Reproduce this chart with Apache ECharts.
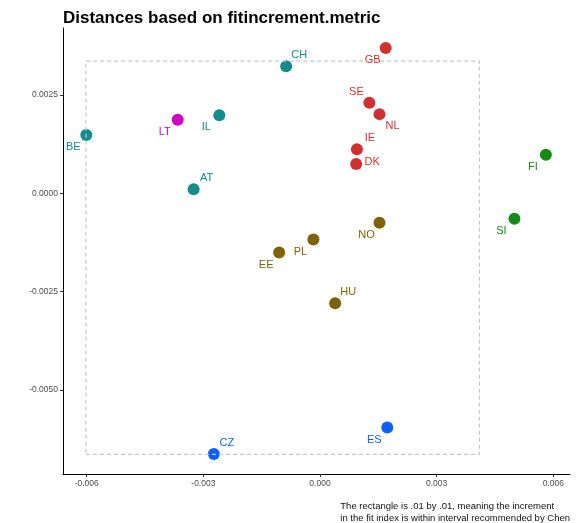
<!DOCTYPE html>
<html>
<head>
<meta charset="utf-8">
<script src="https://cdn.jsdelivr.net/npm/echarts@6/dist/echarts.min.js"></script>
<style>
html,body{margin:0;padding:0;background:#fff;}
#c{width:583px;height:523px;}
</style>
</head>
<body>
<div id="c"></div>
<script>
// ---- data ----
var countries = ['CH','GB','SE','NL','IE','DK','FI','SI','NO','PL','EE','HU','ES','CZ','LT','IL','BE','AT'];
var xValues = [-0.00087, 0.00169, 0.00127, 0.00153, 0.00095, 0.00093, 0.00581, 0.00500, 0.00153, -0.00017, -0.00105, 0.00039, 0.00173, -0.00273, -0.00366, -0.00259, -0.00601, -0.00325];
var yValues = [0.00323, 0.00369, 0.00230, 0.00201, 0.00112, 0.00074, 0.00098, -0.00065, -0.00075, -0.00118, -0.00151, -0.00280, -0.00596, -0.00663, 0.00187, 0.00198, 0.00148, 0.00010];
var groups = ['teal','red','red','red','red','red','green','green','olive','olive','olive','olive','blue','blue','magenta','teal','teal','teal'];
var xTicks = [-0.006, -0.003, 0, 0.003, 0.006];
var yTicks = [-0.005, -0.0025, 0, 0.0025];
var rectX = [-0.00602, 0.0041];
var rectY = [-0.00664, 0.00336];
var titleText = 'Distances based on fitincrement.metric';
var captionLines = ['The rectangle is .01 by .01, meaning the increment ', 'in the fit index is within interval recommended by Chen'];

// ---- styles ----
var groupColors = {teal:'#128C8C', red:'#D2302E', green:'#168A16', olive:'#7F6206', blue:'#0B60FF', magenta:'#D000C6'};
var labelSide = {CH:'tr',GB:'bl',SE:'tl',NL:'br',IE:'tr',DK:'r',FI:'bl',SI:'bl',NO:'bl',PL:'bl',EE:'bl',HU:'tr',ES:'bl',CZ:'tr',LT:'bl',IL:'bl',BE:'bl',AT:'tr'};
var sideOffset = {tr:[13,-11], bl:[-13,12], tl:[-13,-11], br:[13,12], r:[16,-2]};
var FONT = 'Liberation Sans, Arial, sans-serif';

var pointData = countries.map(function(c,i){
  var col = groupColors[groups[i]];
  return {
    name: c,
    value: [xValues[i], yValues[i]],
    itemStyle: {color: col, opacity: 1},
    label: {color: col, offset: sideOffset[labelSide[c]]}
  };
});

var rectData = [
  [rectX[0], rectY[0]],
  [rectX[1], rectY[0]],
  [rectX[1], rectY[1]],
  [rectX[0], rectY[1]],
  [rectX[0], rectY[0]]
];

var chart = echarts.init(document.getElementById('c'), null, {renderer:'canvas'});
chart.setOption({
  animation: false,
  backgroundColor: '#ffffff',
  title: {
    text: titleText,
    left: 58, top: 5,
    textStyle: {fontFamily:FONT, fontWeight:'bold', fontSize:17, color:'#000'}
  },
  graphic: [{
    type:'text', right: 13, top: 500, silent:true,
    style:{text: captionLines.join('\n'), font:'9.5px ' + FONT, fill:'#111', align:'right', lineHeight:12}
  }],
  grid: {left:63, top:28, right:13, bottom:49},
  xAxis: {
    type:'value', min:-0.00661, max:0.00643,
    splitLine:{show:false},
    axisLine:{show:true, onZero:false, lineStyle:{color:'#000', width:1}},
    axisTick:{show:true, customValues:xTicks, length:3, lineStyle:{color:'#333'}},
    axisLabel:{customValues:xTicks, color:'#4D4D4D', fontSize:8.5, margin:5, fontFamily:FONT,
      formatter:function(v){return v.toFixed(3);}}
  },
  yAxis: {
    type:'value', min:-0.00714, max:0.0042,
    splitLine:{show:false},
    axisLine:{show:true, onZero:false, lineStyle:{color:'#000', width:1}},
    axisTick:{show:true, customValues:yTicks, length:3, lineStyle:{color:'#333'}},
    axisLabel:{customValues:yTicks, color:'#4D4D4D', fontSize:8.5, margin:5, fontFamily:FONT,
      formatter:function(v){return v.toFixed(4);}}
  },
  series: [{
    type:'scatter',
    symbolSize:12,
    z:2,
    data: pointData,
    label:{show:true, position:'inside', formatter:'{b}', fontSize:11, fontFamily:FONT},
    emphasis:{disabled:true}
  },{
    type:'line',
    data: rectData,
    z:3,
    symbol:'none',
    silent:true,
    lineStyle:{color:'#C8C8C8', width:1.2, type:[4,3]}
  }]
});
</script>
</body>
</html>
